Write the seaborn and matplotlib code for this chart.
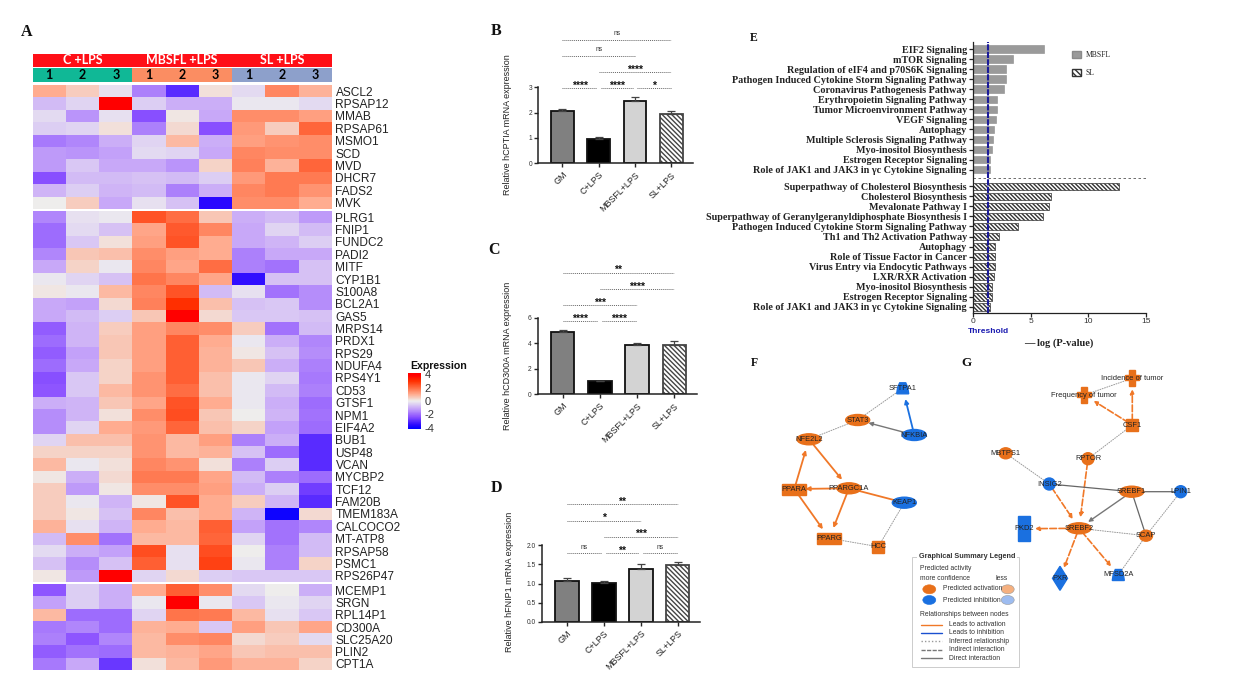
import numpy as np
import pandas as pd
import seaborn as sns
import matplotlib
matplotlib.use("Agg")
import matplotlib.pyplot as plt
from matplotlib.colors import LinearSegmentedColormap, ListedColormap
from matplotlib.patches import Ellipse, Rectangle, Polygon, FancyArrowPatch, Patch

# ---------- DATA: heatmap ----------
genes_1 = ["ASCL2","RPSAP12","MMAB","RPSAP61","MSMO1","SCD","MVD","DHCR7","FADS2","MVK"]
expr_1 = [
 [1.0,0.5,-0.2,-1.7,-3.0,0.2,-0.3,1.6,0.9],
 [-0.8,-0.4,4,-0.5,-1.0,-1.0,-0.1,-0.1,-0.3],
 [-0.3,-1.4,-0.2,-2.4,0.1,-1.1,1.5,1.5,1.2],
 [-0.5,-0.4,0.2,-1.7,0.3,-2.4,1.3,0.5,2.1],
 [-1.8,-1.6,-1.0,-0.4,0.8,-1.0,1.2,1.4,1.5],
 [-1.3,-1.4,-1.2,-0.3,-0.4,-1.1,1.6,1.5,1.5],
 [-1.3,-0.6,-1.1,-1.1,-1.4,0.4,1.7,0.9,2.1],
 [-2.4,-0.8,-0.8,-0.7,-0.8,-0.5,1.3,1.8,1.8],
 [-0.9,-0.5,-0.9,-0.8,-1.7,-1.0,1.6,1.8,1.4],
 [0.0,0.5,-1.1,-0.2,-0.7,-3.6,1.5,1.5,1.0],
]
genes_2 = ["PLRG1","FNIP1","FUNDC2","PADI2","MITF","CYP1B1","S100A8","BCL2A1","GAS5","MRPS14",
           "PRDX1","RPS29","NDUFA4","RPS4Y1","CD53","GTSF1","NPM1","EIF4A2","BUB1","USP48",
           "VCAN","MYCBP2","TCF12","FAM20B","TMEM183A","CALCOCO2","MT-ATP8","RPSAP58","PSMC1","RPS26P47"]
expr_2 = [
 [-1.6,-0.2,-0.1,2.4,2.0,0.6,-1.0,-0.8,-1.3],
 [-2.0,-0.3,-0.7,1.1,2.3,1.6,-1.1,-0.4,-0.8],
 [-2.0,-0.6,0.2,1.2,2.4,1.0,-1.1,-0.9,-0.5],
 [-1.6,0.6,0.7,1.5,1.2,1.0,-1.7,-1.1,-1.1],
 [-1.1,0.4,-0.1,1.6,1.1,2.0,-1.7,-1.9,-0.7],
 [-0.1,-0.4,-0.7,1.9,1.6,1.1,-3.5,-0.7,-0.7],
 [0.1,-0.1,0.8,1.6,2.4,-0.8,-0.2,-1.9,-1.5],
 [-1.1,-1.2,0.3,1.7,3.0,0.7,-0.7,-0.6,-1.5],
 [-1.1,-0.8,-0.5,0.6,3.9,0.3,-0.6,-0.6,-0.7],
 [-2.2,-0.9,0.5,1.2,1.6,1.5,0.5,-1.9,-0.8],
 [-2.0,-0.9,0.6,1.2,2.2,1.0,-0.1,-1.0,-1.6],
 [-2.2,-1.2,0.6,1.2,2.2,0.9,0.1,-0.7,-1.5],
 [-2.0,-1.1,0.4,1.2,2.2,0.9,0.6,-1.0,-1.7],
 [-2.4,-0.6,0.4,1.4,2.2,0.7,-0.1,-0.4,-1.8],
 [-2.3,-0.6,0.8,1.4,2.0,0.7,-0.1,-0.8,-1.7],
 [-1.0,-0.9,0.6,1.1,2.4,1.0,-0.1,-1.0,-2.0],
 [-1.5,-0.9,0.2,1.5,2.5,0.6,0.0,-0.9,-1.9],
 [-1.5,-0.4,1.0,1.3,2.1,0.7,0.4,-1.2,-2.0],
 [-0.4,0.7,0.7,1.4,0.8,1.2,-1.7,-1.0,-3.0],
 [0.4,0.4,0.4,1.4,0.8,0.9,-0.7,-2.0,-3.0],
 [0.8,-0.1,0.2,1.6,1.4,0.2,-1.7,-0.5,-3.0],
 [0.1,-1.0,0.3,1.8,1.8,1.1,-0.8,-1.7,-2.0],
 [0.5,-1.3,0.1,1.5,1.5,1.2,-1.0,-0.5,-2.7],
 [0.5,-0.1,-0.9,0.1,2.4,1.0,0.5,-0.9,-3.0],
 [0.5,0.1,-0.7,1.6,0.7,1.0,-0.9,-4.0,0.3],
 [0.9,-0.2,-0.9,1.0,0.8,2.2,-1.2,-1.9,-1.6],
 [-0.8,1.5,-1.9,0.8,0.8,2.1,-0.4,-1.9,-0.8],
 [-0.3,-1.0,-1.2,2.5,-0.2,2.5,0.0,-1.7,-0.8],
 [-0.7,-1.5,-0.7,2.2,-0.2,2.7,-0.1,-1.7,0.4],
 [0.1,-1.3,4,-0.4,0.3,-0.5,-0.6,-0.6,-0.6],
]
genes_3 = ["MCEMP1","SRGN","RPL14P1","CD300A","SLC25A20","PLIN2","CPT1A"]
expr_3 = [
 [-2.3,-0.5,-1.0,1.0,2.2,1.5,-0.3,0.0,-1.0],
 [-1.2,-0.5,-1.0,-0.1,4,-0.1,-0.6,-0.1,-0.4],
 [0.8,-2.0,-2.0,-0.4,1.9,1.8,0.8,-0.2,-0.6],
 [-1.8,-1.6,-2.0,0.9,1.0,-0.6,1.2,0.6,1.1],
 [-1.7,-2.3,-1.6,0.8,1.5,1.6,0.3,0.5,-0.3],
 [-2.2,-1.9,-2.0,0.8,0.9,1.1,0.6,0.7,0.7],
 [-1.8,-1.1,-2.8,0.2,0.8,1.3,0.9,0.9,0.4],
]
group_names = ["C +LPS","MBSFL +LPS","SL +LPS"]
replicates = ["1","2","3"]*3
group_index = [0,0,0,1,1,1,2,2,2]
cbar_ticks = [4,2,0,-2,-4]

# ---------- DATA: bar panels ----------
bar_labels = ["GM","C+LPS","MBSFL+LPS","SL+LPS"]
b_values = [2.06,0.97,2.46,1.93]
b_errors = [0.08,0.08,0.16,0.14]
b_ticks = [0,1,2,3]
c_values = [4.85,1.02,3.85,3.85]
c_errors = [0.17,0.05,0.15,0.30]
c_ticks = [0,2,4,6]
d_values = [1.07,1.02,1.385,1.47]
d_errors = [0.06,0.04,0.13,0.10]
d_ticks = [0.0,0.5,1.0,1.5,2.0]
b_brackets = [(0,.95,2.97,"****"),(1.05,1.95,2.97,"****"),(2.05,3,2.97,"*"),(1,3,3.59,"****"),(0,2,4.24,"ns"),(0,3,4.87,"ns")]
c_brackets = [(0,.95,5.74,"****"),(1.05,2,5.74,"****"),(0,2,6.99,"***"),(1,3,8.24,"****"),(0,3,9.52,"**")]
d_brackets = [(0,.95,1.78,"ns"),(1.05,1.95,1.78,"**"),(2.05,3,1.78,"ns"),(1,3,2.22,"***"),(0,2,2.63,"*"),(0,3,3.06,"**")]

# ---------- DATA: pathway panel ----------
mbsfl_paths = ["EIF2 Signaling","mTOR Signaling","Regulation of eIF4 and p70S6K Signaling",
 "Pathogen Induced Cytokine Storm Signaling Pathway","Coronavirus Pathogenesis Pathway",
 "Erythropoietin Signaling Pathway","Tumor Microenvironment Pathway","VEGF Signaling","Autophagy",
 "Multiple Sclerosis Signaling Pathway","Myo-inositol Biosynthesis","Estrogen Receptor Signaling",
 "Role of JAK1 and JAK3 in γc Cytokine Signaling"]
mbsfl_vals = [6.1,3.42,2.87,2.84,2.7,2.09,2.06,1.97,1.83,1.74,1.65,1.42,1.42]
sl_paths = ["Superpathway of Cholesterol Biosynthesis","Cholesterol Biosynthesis","Mevalonate Pathway I",
 "Superpathway of Geranylgeranyldiphosphate Biosynthesis I","Pathogen Induced Cytokine Storm Signaling Pathway",
 "Th1 and Th2 Activation Pathway","Autophagy","Role of Tissue Factor in Cancer",
 "Virus Entry via Endocytic Pathways","LXR/RXR Activation","Myo-inositol Biosynthesis",
 "Estrogen Receptor Signaling","Role of JAK1 and JAK3 in γc Cytokine Signaling"]
sl_vals = [12.64,6.72,6.58,6.09,3.86,2.26,1.91,1.91,1.91,1.83,1.65,1.6,1.48]
threshold = 1.25

# ---------- DATA: networks (names, activity, relations) ----------
net_f_nodes = {"SFTPA1":"blue","STAT3":"orange","NFKBIA":"blue","NFE2L2":"orange","PPARGC1A":"orange",
               "PPARA":"orange","KEAP1":"blue","PPARG":"orange","HCC":"orange"}
net_f_edges = [("NFKBIA","SFTPA1","inhib"),("NFKBIA","STAT3","direct"),("STAT3","SFTPA1","dot"),("NFE2L2","STAT3","dot"),
 ("PPARA","NFE2L2","act"),("NFE2L2","PPARGC1A","act"),("PPARGC1A","PPARA","act"),("PPARA","PPARG","act"),
 ("PPARGC1A","PPARG","act"),("KEAP1","PPARGC1A","act_line"),("KEAP1","HCC","dot"),("PPARG","HCC","dot")]
net_g_nodes = {"Incidence of tumor":"orange","Frequency of tumor":"orange","CSF1":"orange","RPTOR":"orange","MBTPS1":"orange",
               "INSIG2":"blue","SREBF1":"orange","LPIN1":"blue","SREBF2":"orange","SCAP":"orange","PKD2":"blue","PXR":"blue","MFSD2A":"blue"}
net_g_edges = [("CSF1","Incidence of tumor","dash"),("CSF1","Frequency of tumor","dash"),("Incidence of tumor","Frequency of tumor","dot"),
 ("CSF1","RPTOR","dot"),("RPTOR","SREBF2","dash"),("MBTPS1","INSIG2","dot"),("INSIG2","SREBF1","line"),("INSIG2","SREBF2","dash_line"),
 ("SREBF1","SREBF2","direct"),("SREBF1","LPIN1","line"),("SREBF1","SCAP","line"),("SCAP","LPIN1","dot"),("SREBF2","SCAP","dot"),
 ("SREBF2","PKD2","dash"),("SREBF2","PXR","dash_line"),("SREBF2","MFSD2A","dash_line"),("SCAP","MFSD2A","dot")]
legend_rel = ["Leads to activation","Leads to inhibition","Inferred relationship","Indirect interaction","Direct interaction"]

# ---------- LAYOUT / STYLE ----------
W, H = 1245, 691
sns.set_theme(style="white")
plt.rcParams["font.family"] = ["Liberation Sans", "DejaVu Sans"]
plt.rcParams["hatch.linewidth"] = 1.0
SERIF = ["Liberation Serif", "DejaVu Serif"]
fig = plt.figure(figsize=(W/100, H/100), dpi=100, facecolor="white")

def axpx(x0, y0, x1, y1, **kw):
    return fig.add_axes([x0/W, 1-y1/H, (x1-x0)/W, (y1-y0)/H], **kw)

# overlay in pixel coordinates for the network diagrams and lettering
ov = axpx(0, 0, W, H)
ov.set_xlim(0, W); ov.set_ylim(H, 0); ov.axis("off")

for s, x, y, fs in [("A",27,32,11.5),("B",496,31,11.5),("C",494,250,11.5),("D",496,488,11.5),
                    ("E",754,38,8.5),("F",754,363,8.5),("G",967,363,9.5)]:
    ov.text(x, y, s, family=SERIF, weight="bold", fontsize=fs, ha="center", va="center", color="#111")

# ---------- A: heatmap ----------
VMAX = 4.2
anchors = [(-4.2,"#0000ff"),(-3.6,"#2a08ff"),(-2.4,"#8a50ff"),(-1.1,"#c8a8f8"),(0,"#eeeeee"),
           (1.0,"#ffac90"),(2.0,"#ff6d42"),(3.0,"#ff3000"),(3.9,"#ff0000"),(4.2,"#ff0000")]
cmap = LinearSegmentedColormap.from_list("expr", [((v+VMAX)/(2*VMAX), c) for v, c in anchors])

ax_top = axpx(32.5, 53.5, 332, 66.7)
sns.heatmap(np.zeros((1,3)), ax=ax_top, cmap=ListedColormap(["#ff0f17"]), cbar=False, xticklabels=False, yticklabels=False,
            annot=np.array([group_names]), fmt="", annot_kws=dict(color="white", fontsize=9, family="Lato", weight="bold"))
ax_ann = axpx(32.5, 68.3, 332, 82.3)
sns.heatmap(np.array([group_index]), ax=ax_ann, cmap=ListedColormap(["#10b896","#fb8d62","#8da0cb"]), cbar=False,
            xticklabels=False, yticklabels=False, annot=np.array([replicates]), fmt="",
            annot_kws=dict(color="black", fontsize=9, family="Lato", weight="bold"))

cax = axpx(408, 373, 421, 429)
blocks = [(genes_1, expr_1, 85, 209), (genes_2, expr_2, 211, 582), (genes_3, expr_3, 584, 670)]
for i, (g, e, y0, y1) in enumerate(blocks):
    a = axpx(32.5, y0, 332, y1)
    sns.heatmap(pd.DataFrame(e, index=g), ax=a, cmap=cmap, vmin=-VMAX, vmax=VMAX, xticklabels=False, yticklabels=g,
                cbar=(i == 0), cbar_ax=cax if i == 0 else None)
    a.yaxis.tick_right()
    a.tick_params(axis="y", length=0, pad=2.5, labelsize=8.6, labelcolor="#222", rotation=0)
cax.set_yticks(cbar_ticks, [str(t) for t in cbar_ticks])
cax.tick_params(length=0, pad=2.5, labelsize=8, labelcolor="#333")
for sp in cax.spines.values():
    sp.set_visible(False)
ov.text(410, 366, "Expression", fontsize=7.6, weight="bold", va="center", color="#111")

# ---------- B, C, D: bars ----------
bar_palette = ["#808080","#000000","#d3d3d3","#ffffff"]
def bar_panel(box, values, errors, ticks, ylabel, brackets, lab_xy, fmt):
    ax = axpx(*box)
    sns.barplot(x=bar_labels, y=values, hue=bar_labels, palette=bar_palette, dodge=False, legend=False,
                errorbar=None, width=0.63, edgecolor="#111", linewidth=1.3, ax=ax)
    ax.patches[3].set_hatch("\\\\\\\\\\\\\\")
    ax.patches[3].set_edgecolor("#444")
    ax.errorbar(range(4), values, yerr=[[0]*4, errors], fmt="none", ecolor="#444", elinewidth=0.9, capsize=3, capthick=0.9)
    ax.set_xlim(-0.667, 3.6)
    ax.set_ylim(ticks[0], ticks[-1])
    ax.set_yticks(ticks, [fmt.format(t) for t in ticks])
    ax.tick_params(axis="y", length=3, width=1, labelsize=4.8, pad=1.5, labelcolor="#333", left=True)
    ax.tick_params(axis="x", length=3, width=1, labelsize=6.4, pad=2, labelcolor="#222", bottom=True)
    plt.setp(ax.get_xticklabels(), rotation=45, ha="right", rotation_mode="anchor")
    sns.despine(ax=ax)
    for s in ("left","bottom"):
        ax.spines[s].set_linewidth(1.1); ax.spines[s].set_color("#222")
    ax.patch.set_alpha(0)
    step = (ticks[-1]-ticks[0]) / (box[3]-box[1])
    for x0, x1, y, lab in brackets:
        ax.plot([x0, x1], [y, y], color="#666", lw=0.7, ls=(0,(1,1)), clip_on=False)
        is_ns = lab == "ns"
        ax.text((x0+x1)/2, y + (6 if is_ns else 2.5)*step, lab, ha="center", va="center",
                fontsize=4.8 if is_ns else 7.5, weight="normal" if is_ns else "bold", color="#333" if is_ns else "#111", clip_on=False)
    ov.text(lab_xy[0], lab_xy[1], ylabel, rotation=90, ha="center", va="center", fontsize=6.5, color="#222")
    return ax

bar_panel((538.3,87.3,693,163.3), b_values, b_errors, b_ticks, "Relative hCPTIA mRNA expression", b_brackets, (508,125), "{:d}")
bar_panel((537.7,317.7,696.7,394.3), c_values, c_errors, c_ticks, "Relative hCD300A mRNA expression", c_brackets, (508,356), "{:d}")
bar_panel((542.3,545,700,622), d_values, d_errors, d_ticks, "Relative hFNIP1 mRNA expression", d_brackets, (509,582), "{:.1f}")

# ---------- E: pathways ----------
axe = axpx(973.3, 41.7, 1146, 312.7)
axe.patch.set_alpha(0)
pos1 = np.arange(len(mbsfl_vals), dtype=float)
pos2 = 13.66 + np.arange(len(sl_vals), dtype=float)
sns.barplot(x=mbsfl_vals, y=pos1, orient="y", native_scale=True, width=0.75, color="#9a9a9a", saturation=1,
            edgecolor="#8a8a8a", linewidth=0.4, ax=axe)
n1 = len(axe.patches)
sns.barplot(x=sl_vals, y=pos2, orient="y", native_scale=True, width=0.75, color="#ffffff", saturation=1,
            edgecolor="#333333", linewidth=0.5, ax=axe)
for p in axe.patches[n1:]:
    p.set_hatch("\\\\\\\\\\\\\\\\")
axe.set_xlim(0, 15)
axe.set_ylim(26.24, -0.73)
axe.set_xlabel(""); axe.set_ylabel("")
axe.set_yticks(np.r_[pos1, pos2], mbsfl_paths + sl_paths)
axe.set_xticks([0,5,10,15])
axe.tick_params(axis="y", length=3, width=0.9, labelsize=7.3, pad=1.5, left=True, labelcolor="#222")
axe.tick_params(axis="x", length=3, width=0.9, labelsize=6.0, pad=1, bottom=True, labelcolor="#333")
for t in axe.get_yticklabels():
    t.set_family(SERIF); t.set_weight("bold")
sns.despine(ax=axe)
for s in ("left","bottom"):
    axe.spines[s].set_linewidth(0.9); axe.spines[s].set_color("#222")
axe.axvline(threshold, color="#1a1a9a", lw=1.5, ls=(0,(3,0.6)))
axe.axhline(12.83, color="#555", lw=0.6, ls=(0,(3,3)))
axe.legend(handles=[Patch(facecolor="#9a9a9a", edgecolor="#8a8a8a", label="MBSFL"),
                    Patch(facecolor="white", edgecolor="#333", hatch="\\\\\\\\\\\\", label="SL")],
           loc="upper left", bbox_to_anchor=(0.57, 0.966), frameon=False, labelspacing=1.3,
           handlelength=1.2, handleheight=1.0, handletextpad=0.6, borderpad=0, borderaxespad=0,
           prop=dict(family=SERIF, size=5.5))
ov.text(988.5, 331.5, "Threshold", color="#1a1ab0", fontsize=6.0, weight="bold", ha="center", va="center")
ov.text(1059, 343, "— log (P-value)", family=SERIF, weight="bold", fontsize=7.5, ha="center", va="center", color="#222")

# ---------- F, G: networks ----------
ORANGE, BLUE = "#e8701a", "#1a70e0"
net_pos = {
 "SFTPA1":(902.7,388.3,"tri"),"STAT3":(857.7,420,"ell"),"NFKBIA":(914.3,435,"ell"),"NFE2L2":(809,439.3,"ell"),
 "PPARGC1A":(849,488.3,"ell"),"PPARA":(794.3,489,"rect"),"KEAP1":(904.3,502.7,"ell"),"PPARG":(829.3,538.3,"rect"),
 "HCC":(878.3,546.7,"sq"),
 "Incidence of tumor":(1132.3,378.3,"cross"),"Frequency of tumor":(1084.3,395,"cross"),"CSF1":(1132.3,425,"sq"),
 "RPTOR":(1088,458.7,"circ"),"MBTPS1":(1005.7,453.3,"ell2"),"INSIG2":(1049.3,484,"circ"),"SREBF1":(1131.7,491.7,"ell"),
 "LPIN1":(1180.7,491.7,"circ"),"SREBF2":(1079,528.3,"ell"),"SCAP":(1146,535.7,"ell2"),"PKD2":(1024,528.7,"tall"),
 "PXR":(1060,578.3,"dia"),"MFSD2A":(1118.3,575,"tri"),
}
EDGE = {
 "act":dict(color="#f07828",lw=1.3,ls="-",arrow=True),"act_line":dict(color="#f07828",lw=1.3,ls="-",arrow=False),
 "inhib":dict(color="#1a70e0",lw=1.3,ls="-",arrow=True),"direct":dict(color="#777",lw=1.0,ls="-",arrow=True),
 "line":dict(color="#666",lw=0.9,ls="-",arrow=False),"dot":dict(color="#999",lw=0.7,ls=(0,(1,1.5)),arrow=False),
 "dash":dict(color="#f07828",lw=1.2,ls=(0,(4,1.5)),arrow=True),"dash_line":dict(color="#f07828",lw=1.2,ls=(0,(4,1.5)),arrow=True),
}
def draw_edges(edges):
    for a, b, k in edges:
        st = EDGE[k]
        pa, pb = net_pos[a][:2], net_pos[b][:2]
        ov.add_patch(FancyArrowPatch(pa, pb, arrowstyle="-|>" if st["arrow"] else "-", mutation_scale=6,
                     color=st["color"], lw=st["lw"], linestyle=st["ls"], shrinkA=3, shrinkB=8 if st["arrow"] else 3, zorder=2))
def draw_nodes(nodes):
    for name, act in nodes.items():
        x, y, sh = net_pos[name]
        c = ORANGE if act == "orange" else BLUE
        if sh == "ell":
            p = Ellipse((x,y), 24, 11, color=c)
        elif sh == "ell2":
            p = Ellipse((x,y), 13, 11, color=c)
        elif sh == "circ":
            p = Ellipse((x,y), 12, 12, color=c)
        elif sh == "rect":
            p = Rectangle((x-12,y-5.5), 24, 11, color=c)
        elif sh == "sq":
            p = Rectangle((x-6,y-6), 12, 12, color=c)
        elif sh == "tall":
            p = Rectangle((x-6,y-12.5), 12, 25, color=c)
        elif sh == "tri":
            p = Polygon([(x-6,y+5.5),(x+6,y+5.5),(x+5,y-1),(x+3,y-5.5),(x-3,y-5.5),(x-5,y-1)], color=c)
        elif sh == "dia":
            p = Polygon([(x,y-12),(x+7.5,y),(x,y+12),(x-7.5,y)], color=c)
        elif sh == "cross":
            p = Polygon([(x-3,y-8),(x+3,y-8),(x+3,y-3),(x+7,y-3),(x+7,y+2),(x+3,y+2),(x+3,y+8),(x-3,y+8),(x-3,y+2),(x-7,y+2),(x-7,y-3),(x-3,y-3)], color=c)
        p.set_zorder(3)
        ov.add_patch(p)
        ov.text(x, y, name, fontsize=5.4, ha="center", va="center", color="#222", zorder=4)
draw_edges(net_f_edges); draw_edges(net_g_edges)
draw_nodes(net_f_nodes); draw_nodes(net_g_nodes)

# legend box
ov.add_patch(Rectangle((912,557), 107, 110, fill=False, ec="#cccccc", lw=0.7, zorder=1))
LF = 4.9
ov.text(967, 557, "Graphical Summary Legend", fontsize=5.2, weight="bold", ha="center", va="center",
        color="#333", bbox=dict(fc="white", ec="none", pad=1.5), zorder=2)
ov.text(920, 569, "Predicted activity", fontsize=LF, va="center", color="#333")
ov.text(920, 579, "more confidence", fontsize=LF, va="center", color="#333")
ov.text(1002, 579, "less", fontsize=LF, ha="center", va="center", color="#333")
for xc, yc, c in [(929.3,589.3,ORANGE),(929.3,600,BLUE),(1007.7,589.3,"#f5b07f"),(1007.7,600,"#9dbcf0")]:
    ov.add_patch(Ellipse((xc,yc), 13, 9, fc=c, ec="#999" if xc > 1000 else c, lw=0.4))
ov.text(942.7, 589, "Predicted activation", fontsize=LF, va="center", color="#333")
ov.text(942.7, 600, "Predicted inhibition", fontsize=LF, va="center", color="#333")
ov.text(920, 615, "Relationships between nodes", fontsize=LF, va="center", color="#333")
for lab, yy, (col, ls) in zip(legend_rel, [624.7,632.7,641.3,649.7,658],
        [("#f07828","-"),("#1a50d0","-"),("#999",(0,(1,1.5))),("#777",(0,(3,1))),("#777","-")]):
    ov.plot([920.7,941.7],[yy,yy], color=col, ls=ls, lw=1.0)
    ov.text(949.3, yy, lab, fontsize=LF, va="center", color="#333")

fig.savefig("out.png", dpi=100, facecolor="white")
